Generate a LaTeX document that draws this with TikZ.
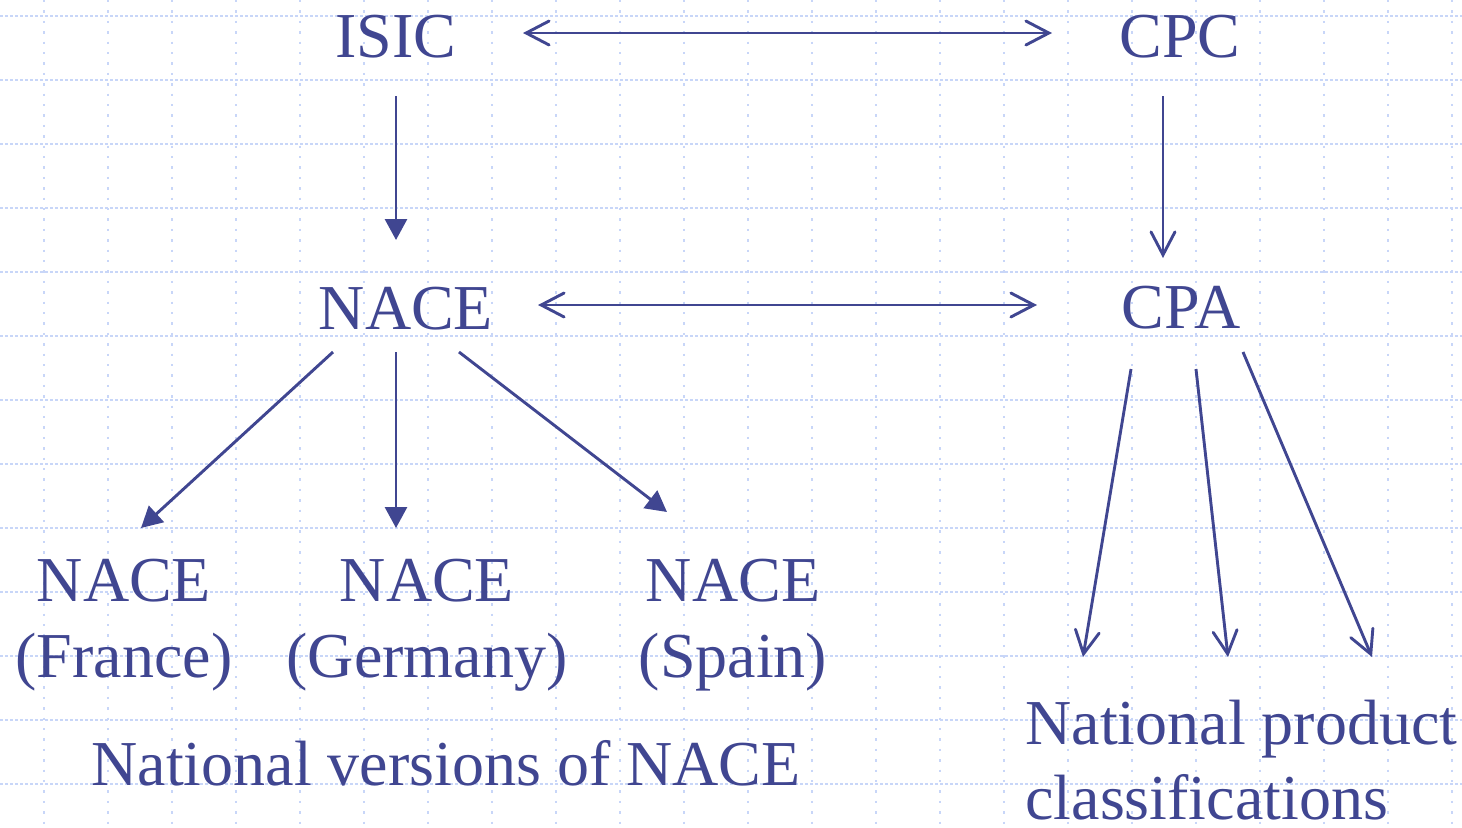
\documentclass[tikz,border=0pt]{standalone}
\usepackage{fontspec}
\setmainfont{Liberation Serif}
\usetikzlibrary{arrows.meta}
\definecolor{ink}{RGB}{64,70,145}
\definecolor{gridblue}{RGB}{200,214,248}
\tikzset{
  lbl/.style={inner sep=0pt, anchor=base, text=ink, font=\fontsize{32}{38}\selectfont, text height=22pt, text depth=0pt},
  lblw/.style={lbl, anchor=base west},
  conn/.style={draw=ink, line width=1.45pt},
  filledarrow/.style={conn, -{Triangle[length=10.5pt,width=11pt]}},
  openarrow/.style={conn, -{Straight Barb[length=11.5pt,width=12pt,line cap=round]}},
  openboth/.style={conn, {Straight Barb[length=11.5pt,width=12pt,line cap=round]}-{Straight Barb[length=11.5pt,width=12pt,line cap=round]}},
  hgrid/.style={draw=gridblue, line width=1.1pt, dash pattern=on 1.5pt off 1pt},
  vgrid/.style={draw=gridblue, line width=1.1pt, dash pattern=on 1.2pt off 4pt}
}
\begin{document}
\begin{tikzpicture}[x=0.5pt, y=-0.5pt]
\useasboundingbox (0,0) rectangle (1462,827);
\fill[white] (0,0) rectangle (1462,827);
% grid
\foreach \k in {0,...,22} { \draw[vgrid] (44+64*\k,0) -- (44+64*\k,827); }
\foreach \k in {0,...,12} { \draw[hgrid] (0,16+64*\k) -- (1462,16+64*\k); }
% nodes
\node[lbl] (isic) at (396,57) {ISIC};
\node[lbl] (cpc) at (1180,57) {CPC};
\node[lbl] (nace) at (406,329) {NACE};
\node[lbl] (cpa) at (1181,328) {CPA};
\node[lbl] (fr1) at (124,601) {NACE};
\node[lbl] (fr2) at (124,677) {(France)};
\node[lbl] (de1) at (427,601) {NACE};
\node[lbl] (de2) at (427,677) {(Germany)};
\node[lbl] (es1) at (733,601) {NACE};
\node[lbl] (es2) at (733,677) {(Spain)};
\node[lbl] (natv) at (446,785) {National versions of NACE};
\node[lblw] (np1) at (1025,744) {National product};
\node[lblw] (np2) at (1025,819) {classifications};
% connectors
\draw[openboth] ([shift={(127,-24)}]isic.base) -- ([shift={(-128,-24)}]cpc.base);
\draw[filledarrow] ([shift={(0,39)}]isic.base) -- ([shift={(-10,-89)}]nace.base);
\draw[openarrow] ([shift={(-17,39)}]cpc.base) -- ([shift={(-18,-70)}]cpa.base);
\draw[openboth] ([shift={(132,-24)}]nace.base) -- ([shift={(-144,-23)}]cpa.base);
\draw[filledarrow] ([shift={(-73,23)}]nace.base) -- ([shift={(17,-73)}]fr1.base);
\draw[filledarrow] ([shift={(-10,23)}]nace.base) -- ([shift={(-31,-73)}]de1.base);
\draw[filledarrow] ([shift={(53,23)}]nace.base) -- ([shift={(-66,-89)}]es1.base);
\draw[openarrow] ([shift={(-50,41)}]cpa.base) -- ([shift={(58,-87)}]np1.base west);
\draw[openarrow] ([shift={(15,41)}]cpa.base) -- ([shift={(203,-87)}]np1.base west);
\draw[openarrow] ([shift={(62,24)}]cpa.base) -- ([shift={(347,-87)}]np1.base west);
\end{tikzpicture}
\end{document}
